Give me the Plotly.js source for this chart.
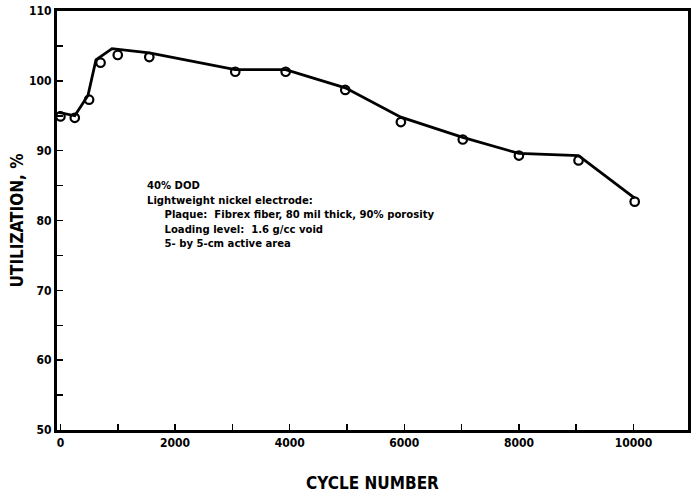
<!DOCTYPE html>
<html>
<head>
<meta charset="utf-8">
<script src="https://cdn.plot.ly/plotly-3.0.1.min.js"></script>
<style>html,body{margin:0;padding:0;background:#fff;}#chart{width:699px;height:499px;}</style>
</head>
<body>
<div id="chart"></div>
<script>
// measured points (open circles)
const cycles = [0, 250, 500, 700, 1000, 1550, 3050, 3930, 4970, 5940, 7020, 8000, 9040, 10020];
const utilization = [94.9, 94.7, 97.3, 102.6, 103.7, 103.4, 101.3, 101.3, 98.7, 94.1, 91.6, 89.3, 88.6, 82.7];
// hand-drawn curve through the data
const curveX = [-30, 250, 480, 620, 900, 1550, 3050, 3930, 4970, 5940, 7020, 8000, 9040, 10020];
const curveY = [95.5, 95.0, 97.9, 103.0, 104.6, 104.0, 101.6, 101.6, 99.0, 94.8, 91.9, 89.6, 89.3, 83.2];
const xTickVals = [0, 2000, 4000, 6000, 8000, 10000];
const yTickVals = [50, 60, 70, 80, 90, 100, 110];
const noteLines = [
  "40% DOD",
  "Lightweight nickel electrode:",
  "     Plaque:  Fibrex fiber, 80 mil thick, 90% porosity",
  "     Loading level:  1.6 g/cc void",
  "     5- by 5-cm active area"
];

const FONT = "DejaVu Sans Condensed, Liberation Sans Narrow, Liberation Sans, Arial, sans-serif";

const traces = [
  {x: curveX, y: curveY, mode: "lines", type: "scatter",
   line: {color: "#000", width: 2.8, shape: "linear"}, hoverinfo: "skip", showlegend: false},
  {x: cycles, y: utilization, mode: "markers", type: "scatter",
   marker: {symbol: "circle-open", size: 8.5, color: "#000", line: {width: 2.2, color: "#000"}},
   showlegend: false}
];

const layout = {
  width: 699, height: 499,
  margin: {l: 57, r: 11, t: 11, b: 69},
  paper_bgcolor: "#fff", plot_bgcolor: "#fff",
  showlegend: false,
  font: {family: FONT, color: "#000"},
  xaxis: {
    range: [-60, 10950], tickvals: xTickVals, ticktext: xTickVals.map(String),
    ticks: "inside", ticklen: 6, tickwidth: 1.5, tickcolor: "#000",
    minor: {dtick: 1000, tick0: 0, ticks: "inside", ticklen: 6, tickwidth: 1.5, tickcolor: "#000"},
    showline: true, linewidth: 3, linecolor: "#000", mirror: true,
    showgrid: false, zeroline: false,
    tickfont: {family: FONT, size: 12, color: "#000", weight: "bold"},
    title: {text: "<b>CYCLE NUMBER</b>", font: {family: FONT, size: 17, color: "#000"}, standoff: 28}
  },
  yaxis: {
    range: [50, 110], tickvals: yTickVals, ticktext: yTickVals.map(String),
    ticks: "inside", ticklen: 6, tickwidth: 1.5, tickcolor: "#000",
    minor: {dtick: 5, tick0: 50, ticks: "inside", ticklen: 6, tickwidth: 1.5, tickcolor: "#000"},
    showline: true, linewidth: 3, linecolor: "#000", mirror: true,
    showgrid: false, zeroline: false,
    tickfont: {family: FONT, size: 12, color: "#000", weight: "bold"},
    title: {text: "<b>UTILIZATION, %</b>", font: {family: FONT, size: 17, color: "#000"}, standoff: 2}
  },
  annotations: [{
    xref: "paper", yref: "paper", x: 0.139, y: 0.605, xanchor: "left", yanchor: "top",
    align: "left", showarrow: false,
    text: noteLines.map(s => "<b>" + s.replace(/ /g, "&nbsp;") + "</b>").join("<br>"),
    font: {family: FONT, size: 11.2, color: "#000"}
  }]
};

Plotly.newPlot("chart", traces, layout, {displayModeBar: false, staticPlot: true});
</script>
</body>
</html>
